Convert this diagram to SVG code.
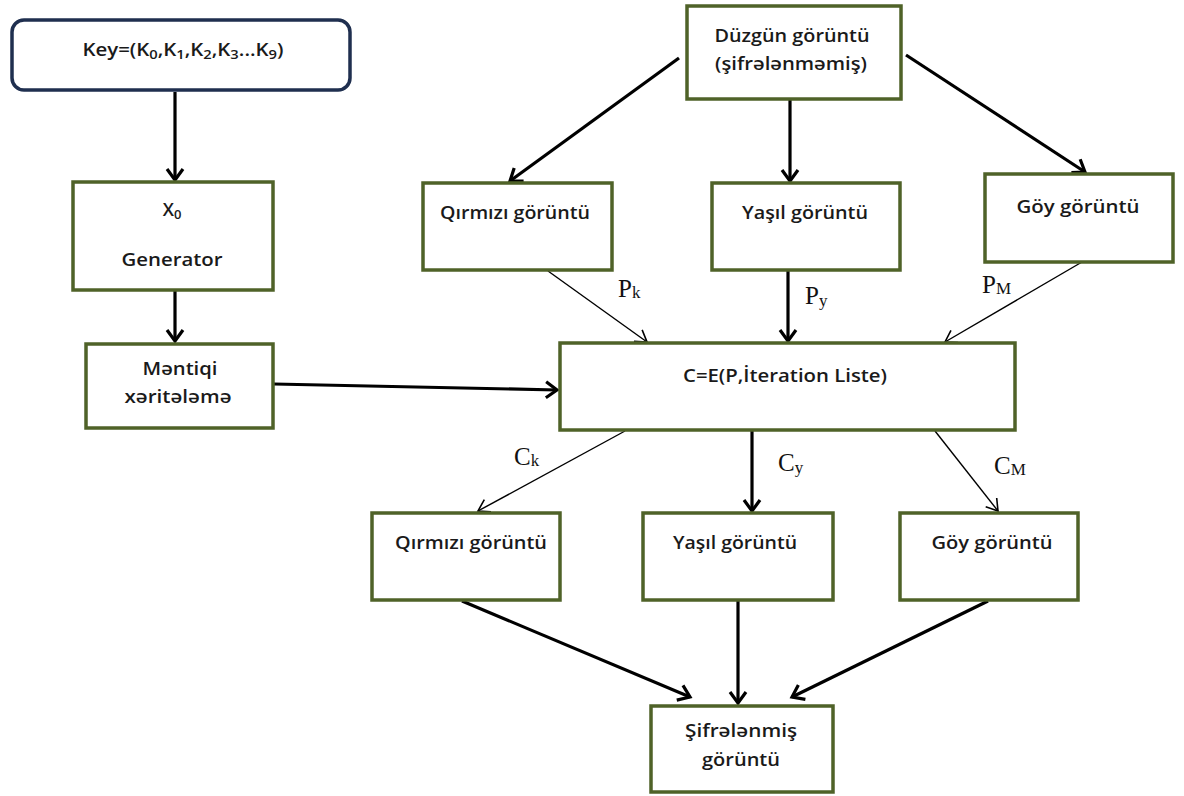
<svg xmlns="http://www.w3.org/2000/svg" width="1184" height="796" viewBox="0 0 1184 796">
<defs>
<style>
.box{fill:#fff;stroke:#4f6228;stroke-width:3.5}
.key{fill:#fff;stroke:#1f2f4f;stroke-width:3.5}
.t{font-family:"Open Sans","Noto Sans",sans-serif;font-size:18px;font-weight:600;fill:#1a1a1a;text-anchor:middle}
.lbl{font-family:"Liberation Serif",serif;font-size:25px;fill:#111}
.sub{font-size:17px}
.thick{stroke:#000;stroke-width:3.2;fill:none;marker-end:url(#ah)}
.thin{stroke:#000;stroke-width:1.4;fill:none;marker-end:url(#at)}
</style>
<marker id="ah" viewBox="0 0 12 16" refX="11" refY="8" markerWidth="12" markerHeight="16" markerUnits="userSpaceOnUse" orient="auto" overflow="visible">
<path d="M0,0 L11,8 L0,16" fill="none" stroke="#000" stroke-width="3.2"/>
</marker>
<marker id="at" viewBox="0 0 12 14" refX="11" refY="7" markerWidth="12" markerHeight="14" markerUnits="userSpaceOnUse" orient="auto" overflow="visible">
<path d="M0,0 L11,7 L0,14" fill="none" stroke="#000" stroke-width="1.6"/>
</marker>
</defs>
<rect width="1184" height="796" fill="#fff"/>
<g id="connectors">
<line class="thick" x1="175" y1="92" x2="175" y2="180"/>
<line class="thick" x1="175" y1="291" x2="175" y2="341"/>
<line class="thick" x1="274" y1="384" x2="557" y2="390"/>
<line class="thick" x1="679" y1="58" x2="510" y2="181"/>
<line class="thick" x1="790" y1="100" x2="790" y2="181"/>
<line class="thick" x1="906" y1="55" x2="1085" y2="172"/>
<line class="thin" x1="548" y1="271" x2="647" y2="342"/>
<line class="thick" x1="788" y1="271" x2="788" y2="341"/>
<line class="thin" x1="1082" y1="262" x2="945" y2="342"/>
<line class="thin" x1="625" y1="431" x2="478" y2="511"/>
<line class="thick" x1="752" y1="431" x2="752" y2="511"/>
<line class="thin" x1="935" y1="431" x2="998" y2="511"/>
<line class="thick" x1="462" y1="601" x2="690" y2="697"/>
<line class="thick" x1="738" y1="601" x2="738" y2="703"/>
<line class="thick" x1="988" y1="601" x2="792" y2="697"/>
<text class="lbl" x="618" y="297">P<tspan class="sub" dy="1">k</tspan></text>
<text class="lbl" x="805" y="304">P<tspan class="sub" dy="2">y</tspan></text>
<text class="lbl" x="982" y="293">P<tspan class="sub" dy="1">M</tspan></text>
<text class="lbl" x="514" y="465">C<tspan class="sub" dy="1">k</tspan></text>
<text class="lbl" x="778" y="471">C<tspan class="sub" dy="2">y</tspan></text>
<text class="lbl" x="994" y="474">C<tspan class="sub" dy="1">M</tspan></text>
</g>
<g id="key"><rect class="key" x="12" y="20" width="338" height="70" rx="12"/>
<text class="t" x="183" y="56" textLength="201" lengthAdjust="spacingAndGlyphs">Key=(K<tspan font-size="13" dy="3">0</tspan><tspan dy="-3">,K</tspan><tspan font-size="13" dy="3">1</tspan><tspan dy="-3">,K</tspan><tspan font-size="13" dy="3">2</tspan><tspan dy="-3">,K</tspan><tspan font-size="13" dy="3">3</tspan><tspan dy="-3">...K</tspan><tspan font-size="13" dy="3">9</tspan><tspan dy="-3">)</tspan></text></g>
<g id="generator"><rect class="box" x="73" y="182" width="200" height="108"/>
<text class="t" x="172" y="216">X<tspan font-size="13" dy="3">0</tspan></text>
<text class="t" x="172" y="266" textLength="101" lengthAdjust="spacingAndGlyphs">Generator</text></g>
<g id="mentiqi"><rect class="box" x="86" y="344" width="187" height="84"/>
<text class="t" x="180" y="375" textLength="75" lengthAdjust="spacingAndGlyphs">Məntiqi</text>
<text class="t" x="178" y="403" textLength="107" lengthAdjust="spacingAndGlyphs">xəritələmə</text></g>
<g id="duzgun"><rect class="box" x="687" y="6" width="214" height="93"/>
<text class="t" x="792" y="42" textLength="155" lengthAdjust="spacingAndGlyphs">Düzgün görüntü</text>
<text class="t" x="791" y="70" textLength="152" lengthAdjust="spacingAndGlyphs">(şifrələnməmiş)</text></g>
<g id="qirmizi1"><rect class="box" x="423" y="183" width="189" height="87"/>
<text class="t" x="515" y="219" textLength="150" lengthAdjust="spacingAndGlyphs">Qırmızı görüntü</text></g>
<g id="yasil1"><rect class="box" x="712" y="183" width="188" height="87"/>
<text class="t" x="805" y="219" textLength="126" lengthAdjust="spacingAndGlyphs">Yaşıl görüntü</text></g>
<g id="goy1"><rect class="box" x="985" y="174" width="188" height="88"/>
<text class="t" x="1078" y="213" textLength="123" lengthAdjust="spacingAndGlyphs">Göy görüntü</text></g>
<g id="encrypt"><rect class="box" x="560" y="343" width="455" height="87"/>
<text class="t" x="785" y="382" textLength="204" lengthAdjust="spacingAndGlyphs">C=E(P,İteration Liste)</text></g>
<g id="qirmizi2"><rect class="box" x="372" y="513" width="188" height="87"/>
<text class="t" x="471" y="549" textLength="152" lengthAdjust="spacingAndGlyphs">Qırmızı görüntü</text></g>
<g id="yasil2"><rect class="box" x="643" y="513" width="190" height="87"/>
<text class="t" x="735" y="549" textLength="124" lengthAdjust="spacingAndGlyphs">Yaşıl görüntü</text></g>
<g id="goy2"><rect class="box" x="900" y="513" width="178" height="87"/>
<text class="t" x="992" y="549" textLength="121" lengthAdjust="spacingAndGlyphs">Göy görüntü</text></g>
<g id="sifrelenmis"><rect class="box" x="651" y="706" width="182" height="86"/>
<text class="t" x="741" y="737" textLength="112" lengthAdjust="spacingAndGlyphs">Şifrələnmiş</text>
<text class="t" x="741" y="766" textLength="78" lengthAdjust="spacingAndGlyphs">görüntü</text></g>
</svg>
